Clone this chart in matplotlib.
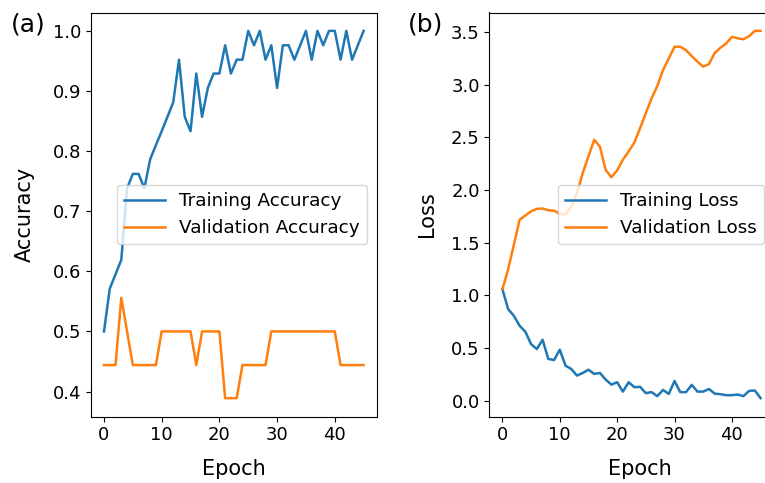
import numpy as np
import matplotlib
matplotlib.use('Agg')
import matplotlib.pyplot as plt

epochs = np.arange(46)

train_acc = [0.500, 0.571, 0.595, 0.619, 0.738, 0.762, 0.762, 0.738, 0.786, 0.810,
             0.833, 0.857, 0.881, 0.952, 0.857, 0.833, 0.929, 0.857, 0.905, 0.929,
             0.929, 0.976, 0.929, 0.952, 0.952, 1.000, 0.976, 1.000, 0.952, 0.976,
             0.905, 0.976, 0.976, 0.952, 0.976, 1.000, 0.952, 1.000, 0.976, 1.000,
             1.000, 0.952, 1.000, 0.952, 0.976, 1.000]
val_acc = [0.444, 0.444, 0.444, 0.556, 0.500, 0.444, 0.444, 0.444, 0.444, 0.444,
           0.500, 0.500, 0.500, 0.500, 0.500, 0.500, 0.444, 0.500, 0.500, 0.500,
           0.500, 0.389, 0.389, 0.389, 0.444, 0.444, 0.444, 0.444, 0.444, 0.500,
           0.500, 0.500, 0.500, 0.500, 0.500, 0.500, 0.500, 0.500, 0.500, 0.500,
           0.500, 0.444, 0.444, 0.444, 0.444, 0.444]

train_loss = [1.057, 0.868, 0.804, 0.710, 0.653, 0.536, 0.489, 0.577, 0.395, 0.385,
              0.483, 0.331, 0.300, 0.237, 0.262, 0.293, 0.253, 0.262, 0.199, 0.151,
              0.174, 0.085, 0.174, 0.127, 0.130, 0.070, 0.080, 0.042, 0.101, 0.063,
              0.186, 0.080, 0.080, 0.149, 0.085, 0.085, 0.110, 0.066, 0.060, 0.051,
              0.051, 0.057, 0.042, 0.092, 0.095, 0.023]
val_loss = [1.057, 1.246, 1.480, 1.717, 1.757, 1.797, 1.820, 1.823, 1.807, 1.803,
            1.773, 1.767, 1.840, 1.970, 2.160, 2.320, 2.476, 2.410, 2.190, 2.120,
            2.186, 2.287, 2.365, 2.450, 2.587, 2.728, 2.870, 2.987, 3.138, 3.249,
            3.359, 3.359, 3.327, 3.270, 3.217, 3.170, 3.195, 3.300, 3.350, 3.390,
            3.453, 3.440, 3.430, 3.460, 3.510, 3.510]

W, H = 765, 483
fig = plt.figure(figsize=(W / 100., H / 100.), dpi=100)

# axes boxes in pixels; the right panel runs a little past the image edge
ax1 = fig.add_axes([91. / W, 1 - 416.5 / H, 285.6 / W, 404. / H])
ax2 = fig.add_axes([489.5 / W, 1 - 416.5 / H, 284. / W, 404. / H])

lw = 1.8
ax1.plot(epochs, train_acc, lw=lw, label='Training Accuracy')
ax1.plot(epochs, val_acc, lw=lw, label='Validation Accuracy')
ax1.set_xlabel('Epoch', fontsize=15)
ax1.set_ylabel('Accuracy', fontsize=15)
ax1.legend(loc='center right', fontsize=13.2, handlelength=2.2)

ax2.plot(epochs, train_loss, lw=lw, label='Training Loss')
ax2.plot(epochs, val_loss, lw=lw, label='Validation Loss')
ax2.set_xlabel('Epoch', fontsize=15)
ax2.set_ylabel('Loss', fontsize=15)
ax2.legend(loc='center right', fontsize=13.2, handlelength=2.2)

for ax in (ax1, ax2):
    ax.tick_params(labelsize=13)
    ax.set_xticks([0, 10, 20, 30, 40])

ax1.yaxis.set_label_coords(-0.195, 0.5)
ax2.yaxis.set_label_coords(-0.184, 0.5)
ax1.xaxis.set_label_coords(0.5, -0.105)
ax2.xaxis.set_label_coords(0.53, -0.105)

fig.text(10.5 / W, 1 - 31.5 / H, '(a)', fontsize=18, va='baseline')
fig.text(408. / W, 1 - 31.5 / H, '(b)', fontsize=18, va='baseline')

fig.savefig('out.png', dpi=100)
